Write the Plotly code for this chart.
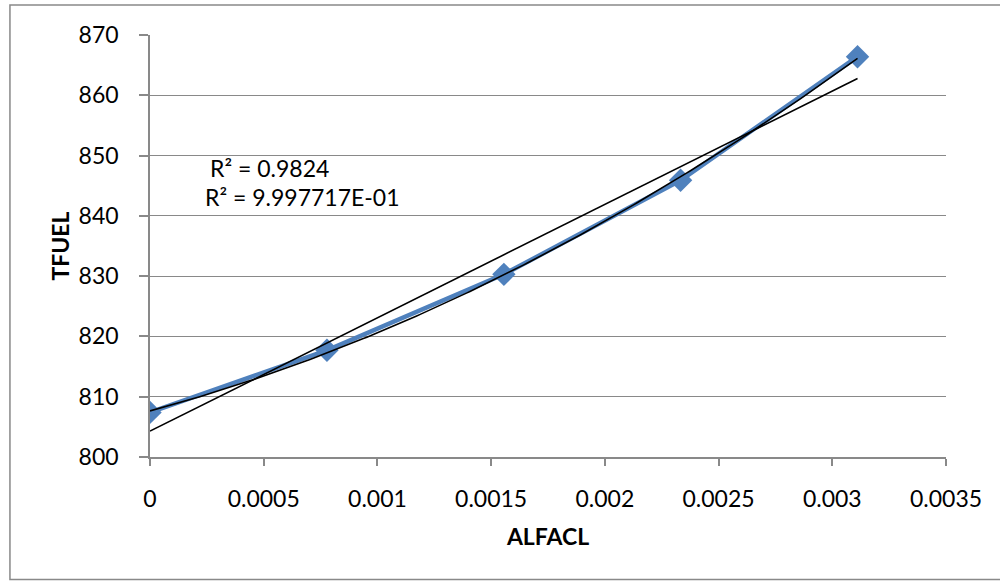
import numpy as np
import plotly.graph_objects as go

alfacl = [0.0, 0.000778, 0.001556, 0.002333, 0.003111]
tfuel = [807.4, 817.7, 830.3, 845.9, 866.4]
x_ticks = [0, 0.0005, 0.001, 0.0015, 0.002, 0.0025, 0.003, 0.0035]
x_tick_labels = ["0", "0.0005", "0.001", "0.0015", "0.002", "0.0025", "0.003", "0.0035"]
y_ticks = [800, 810, 820, 830, 840, 850, 860, 870]
r2_labels = ["R² = 0.9824", "R² = 9.997717E-01"]

xa = np.array(alfacl)
ya = np.array(tfuel)
lin = np.polyfit(xa, ya, 1)
quad = np.polyfit(xa, ya, 2)
xs = np.linspace(xa.min(), xa.max(), 200)

FONT = "Lato, Carlito, Calibri, sans-serif"
GRID = "#898989"

fig = go.Figure()
fig.add_trace(go.Scatter(x=alfacl, y=tfuel, mode="lines+markers",
                         line=dict(color="#4F81BD", width=4.5),
                         marker=dict(symbol="diamond", size=18, color="#4F81BD"),
                         showlegend=False))
fig.add_trace(go.Scatter(x=[xa.min(), xa.max()], y=np.polyval(lin, [xa.min(), xa.max()]),
                         mode="lines", line=dict(color="black", width=1.6), showlegend=False))
fig.add_trace(go.Scatter(x=xs, y=np.polyval(quad, xs), mode="lines",
                         line=dict(color="black", width=1.6), showlegend=False))

fig.add_annotation(x=0.000253, y=847.9, xref="x", yref="y", text=r2_labels[0],
                   showarrow=False, xanchor="left", yanchor="middle",
                   font=dict(family=FONT, size=23, color="black"))
fig.add_annotation(x=0.000231, y=843.2, xref="x", yref="y", text=r2_labels[1],
                   showarrow=False, xanchor="left", yanchor="middle",
                   font=dict(family=FONT, size=23, color="black"))

# outer chart border (right edge falls outside the picture)
L, R, T, B = 150, 945.7, 35, 457
pw, ph = R - L, B - T
fig.add_shape(type="rect", xref="paper", yref="paper",
              x0=(10 - L) / pw, x1=(1003 - L) / pw,
              y0=(B - 579.5) / ph, y1=(B - 5) / ph,
              line=dict(color=GRID, width=1.5))

fig.update_layout(
    width=1000, height=581,
    margin=dict(l=L, r=1000 - R, t=T, b=581 - B),
    paper_bgcolor="white", plot_bgcolor="white",
    font=dict(family=FONT, size=23, color="black"),
    xaxis=dict(range=[0, 0.0035], tickvals=x_ticks, ticktext=x_tick_labels,
               showgrid=False, zeroline=False, showline=True, linecolor=GRID, linewidth=1.5,
               ticks="outside", ticklen=7, tickcolor=GRID, tickwidth=1.5, ticklabelstandoff=14,
               tickfont=dict(size=23), title=dict(text="<b>ALFACL</b>", font=dict(size=23), standoff=18)),
    yaxis=dict(range=[800, 870], tickvals=y_ticks,
               showgrid=True, gridcolor=GRID, gridwidth=1.2, zeroline=False,
               showline=True, linecolor=GRID, linewidth=1.5,
               ticks="outside", ticklen=9, tickcolor=GRID, tickwidth=1.5, ticklabelstandoff=16,
               tickfont=dict(size=23), title=dict(text="<b>TFUEL</b>", font=dict(size=23), standoff=3)),
)

fig.write_html("out.html")
